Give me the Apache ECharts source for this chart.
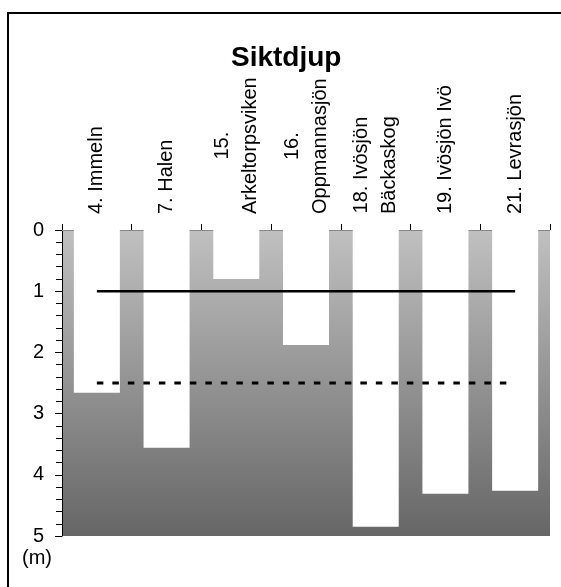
<!DOCTYPE html>
<html>
<head>
<meta charset="utf-8">
<script src="https://cdn.jsdelivr.net/npm/echarts@6/dist/echarts.min.js"></script>
<style>
html,body{margin:0;padding:0;background:#fff;}
#chart{width:561px;height:587px;}
</style>
</head>
<body>
<div id="chart"></div>
<script>
const categories = ['4. Immeln', '7. Halen', '15.\nArkeltorpsviken', '16.\nOppmannasjön', '18. Ivösjön\nBäckaskog', '19. Ivösjön Ivö', '21. Levrasjön'];
const depthValues = [2.66, 3.56, 0.80, 1.88, 4.85, 4.31, 4.26];
const solidLine = [1, 1, 1, 1, 1, 1, 1];
const dashedLine = [2.5, 2.5, 2.5, 2.5, 2.5, 2.5, 2.5];
const yTicks = [0, 1, 2, 3, 4, 5];

const FONT = 'Liberation Sans, Arial, sans-serif';
const chart = echarts.init(document.getElementById('chart'), null, {renderer: 'canvas'});
chart.setOption({
  animation: false,
  backgroundColor: '#fff',
  title: {
    text: 'Siktdjup',
    left: 226,
    top: 39,
    textStyle: {fontFamily: FONT, fontSize: 28, fontWeight: 'bold', color: '#000'}
  },
  graphic: [{
    type: 'rect',
    shape: {x: 8, y: 13, width: 620, height: 620},
    style: {fill: 'none', stroke: '#000', lineWidth: 2},
    silent: true
  }],
  grid: {
    left: 62, right: 11, top: 230, bottom: 51,
    show: true, borderWidth: 0,
    backgroundColor: {
      type: 'linear', x: 0, y: 0, x2: 0, y2: 1,
      colorStops: [{offset: 0, color: '#c0c0c0'}, {offset: 1, color: '#666666'}]
    }
  },
  xAxis: {
    type: 'category',
    position: 'top',
    data: categories,
    boundaryGap: true,
    axisLine: {show: true, lineStyle: {color: '#888', width: 1}},
    axisTick: {show: true, length: 6, lineStyle: {color: '#000'}},
    splitLine: {show: false},
    axisLabel: {
      interval: 0,
      rotate: 90,
      margin: 16,
      color: '#000',
      fontFamily: FONT,
      fontSize: 20,
      lineHeight: 28,
      formatter: function (v) {
        return v.split('\n').map(function (s) { return '{c|' + s + '}'; }).join('\n');
      },
      rich: {c: {align: 'center', fontFamily: FONT, fontSize: 20, lineHeight: 28, color: '#000'}}
    }
  },
  yAxis: {
    type: 'value',
    inverse: true,
    min: yTicks[0],
    max: yTicks[yTicks.length - 1],
    interval: 1,
    name: '(m)',
    nameLocation: 'end',
    nameGap: 12,
    nameTextStyle: {fontFamily: FONT, fontSize: 20, color: '#000', padding: [0, 50, 0, 0]},
    axisLine: {show: true, lineStyle: {color: '#000', width: 1}},
    axisTick: {show: true, length: 7, lineStyle: {color: '#000'}},
    minorTick: {show: true, splitNumber: 5, length: 6, lineStyle: {color: '#000'}},
    splitLine: {show: false},
    axisLabel: {margin: 18, color: '#000', fontFamily: FONT, fontSize: 20}
  },
  series: [
    {
      type: 'bar',
      data: depthValues,
      barCategoryGap: '34%',
      itemStyle: {color: '#fff'},
      z: 2
    },
    {
      type: 'line',
      data: solidLine,
      symbol: 'none',
      lineStyle: {color: '#000', width: 2.5, type: 'solid'},
      z: 3
    },
    {
      type: 'line',
      data: dashedLine,
      symbol: 'none',
      lineStyle: {color: '#000', width: 3, type: [6.5, 9]},
      z: 3
    }
  ]
});
</script>
</body>
</html>
